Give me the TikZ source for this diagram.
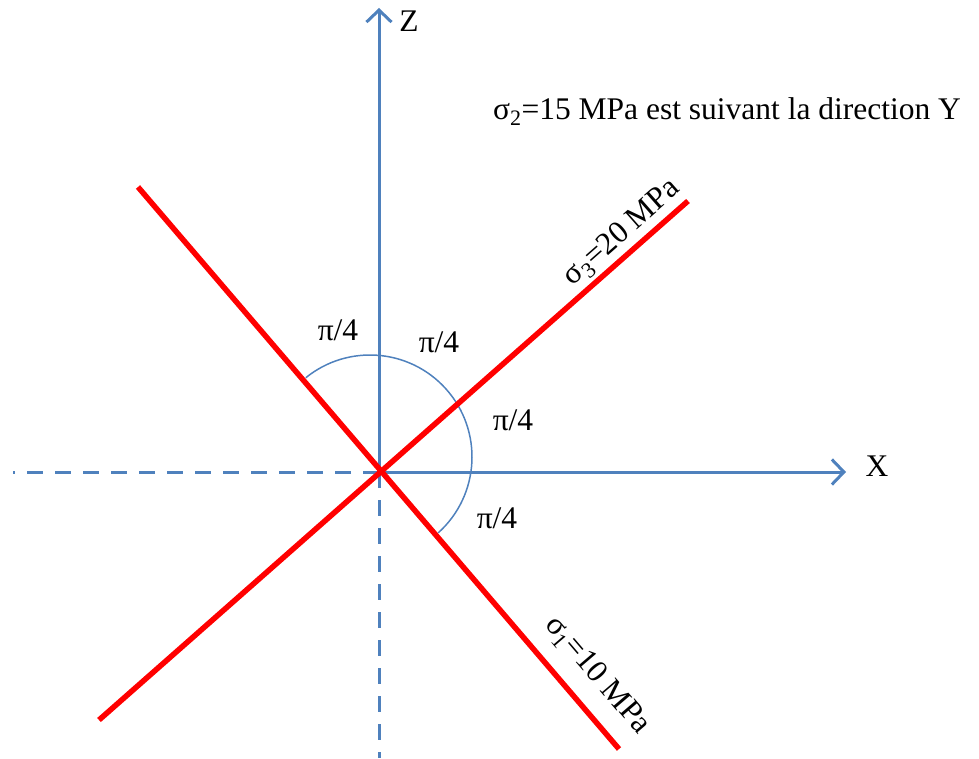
\documentclass[tikz,border=0pt]{standalone}
\usepackage{fontspec}
\setmainfont{Liberation Serif}
\usetikzlibrary{arrows.meta}
\definecolor{axisblue}{RGB}{79,129,189}
\definecolor{stressred}{RGB}{255,0,0}

\begin{document}
\begin{tikzpicture}[
  x=1pt, y=1pt,
  every node/.style={font=\fontsize{31.5}{37}\selectfont, text=black},
  axis/.style={draw=axisblue, line width=3pt, -{Straight Barb[length=12pt, width=25pt]}},
  halfaxis/.style={draw=axisblue, line width=3pt, dash pattern=on 16pt off 12pt},
  stress/.style={draw=stressred, line width=5.5pt},
  angarc/.style={draw=axisblue, line width=1.5pt},
  lbl/.style={inner sep=1pt}
]
  \useasboundingbox (-379,-286) rectangle (600,472);

  % Origin and line ends
  \coordinate (o)    at (0,0);
  \coordinate (ztip) at (0,464);
  \coordinate (xtip) at (467,0);
  \coordinate (xneg) at (-366,0);
  \coordinate (zneg) at (0,-286);
  \coordinate (s1a)  at (-241,285);
  \coordinate (s1b)  at (240,-277);
  \coordinate (s3a)  at (-280,-248);
  \coordinate (s3b)  at (309,271);
  \coordinate (arcc) at (-9,15);

  % Axes
  \draw[axis] (o) -- (ztip);
  \draw[axis] (o) -- (xtip);
  \draw[halfaxis] (o) -- (xneg);
  \draw[halfaxis] (o) -- (zneg);
  \node (zlab) at (30,451) {Z};
  \node (xlab) at (498,6) {X};

  % Angle arc
  \draw[angarc] ([shift={(-48:102)}]arcc) arc[start angle=-48, end angle=129, radius=102];

  % Principal directions
  \draw[stress] (s1a) -- node[pos=0.905, sloped, above=14pt, lbl] (sig1) {σ\textsubscript{1}=10 MPa} (s1b);
  \draw[stress] (s3a) -- node[pos=0.91, sloped, above=2pt, lbl] (sig3) {σ\textsubscript{3}=20 MPa} (s3b);

  % Angles
  \node (a1) at (-41,142) {π/4};
  \node (a2) at (60,130)  {π/4};
  \node (a3) at (134,52)  {π/4};
  \node (a4) at (118,-46) {π/4};

  % Note
  \node (sig2) at (348,360) {σ\textsubscript{2}=15 MPa est suivant la direction Y};
\end{tikzpicture}
\end{document}
